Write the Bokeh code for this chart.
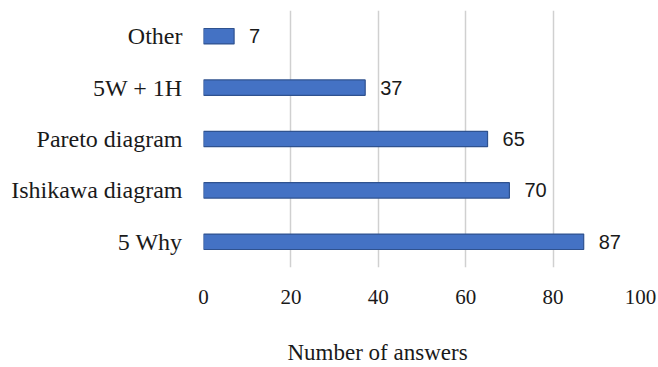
from bokeh.plotting import figure
from bokeh.models import ColumnDataSource, Title, Range1d, FixedTicker
from bokeh.core.properties import value
from bokeh.embed import file_html
from bokeh.resources import INLINE

# Quality tools and how many respondents named each one
methods = ["5 Why", "Ishikawa diagram", "Pareto diagram", "5W + 1H", "Other"]
answers = [87, 70, 65, 37, 7]
x_ticks = [0, 20, 40, 60, 80, 100]

source = ColumnDataSource(data=dict(method=methods, count=answers,
                                    label=[str(v) for v in answers]))

p = figure(
    y_range=methods,
    x_range=Range1d(0, 100),
    frame_width=437,
    frame_height=257,
    output_backend="svg",
    toolbar_location=None,
    min_border_left=203,
    min_border_right=18,
    min_border_top=10,
    min_border_bottom=10,
)
p.outline_line_color = None
p.background_fill_color = "white"
p.border_fill_color = "white"

p.hbar(y="method", right="count", left=0, height=0.3, source=source,
       fill_color="#4472c4", line_color="#2f528f", line_width=1.2)

p.text(x="count", y="method", text="label", source=source,
       x_offset=15, text_baseline="middle", text_align="left",
       text_font=value("Liberation Sans"), text_font_size="20px",
       text_color="#1a1a1a")

# Axes
p.xaxis.ticker = FixedTicker(ticks=x_ticks)
p.xaxis.axis_line_color = None
p.xaxis.major_tick_line_color = None
p.xaxis.minor_tick_line_color = None
p.xaxis.major_label_text_font = "Liberation Serif"
p.xaxis.major_label_text_font_size = "21px"
p.xaxis.major_label_text_color = "#1a1a1a"
p.xaxis.major_label_standoff = 16

p.yaxis.axis_line_color = None
p.yaxis.major_tick_line_color = None
p.yaxis.minor_tick_line_color = None
p.yaxis.major_label_text_font = "Liberation Serif"
p.yaxis.major_label_text_font_size = "24px"
p.yaxis.major_label_text_color = "#1a1a1a"
p.yaxis.major_label_standoff = 15

p.xgrid.grid_line_color = "#d0d0d0"
p.xgrid.grid_line_width = 1.5
p.ygrid.grid_line_color = None

p.add_layout(Title(text="Number of answers", align="left", offset=84,
                   text_font="Liberation Serif", text_font_size="23px",
                   text_font_style="normal", text_color="#1a1a1a",
                   standoff=63), "below")

open("out.html", "w").write(file_html(p, INLINE))
